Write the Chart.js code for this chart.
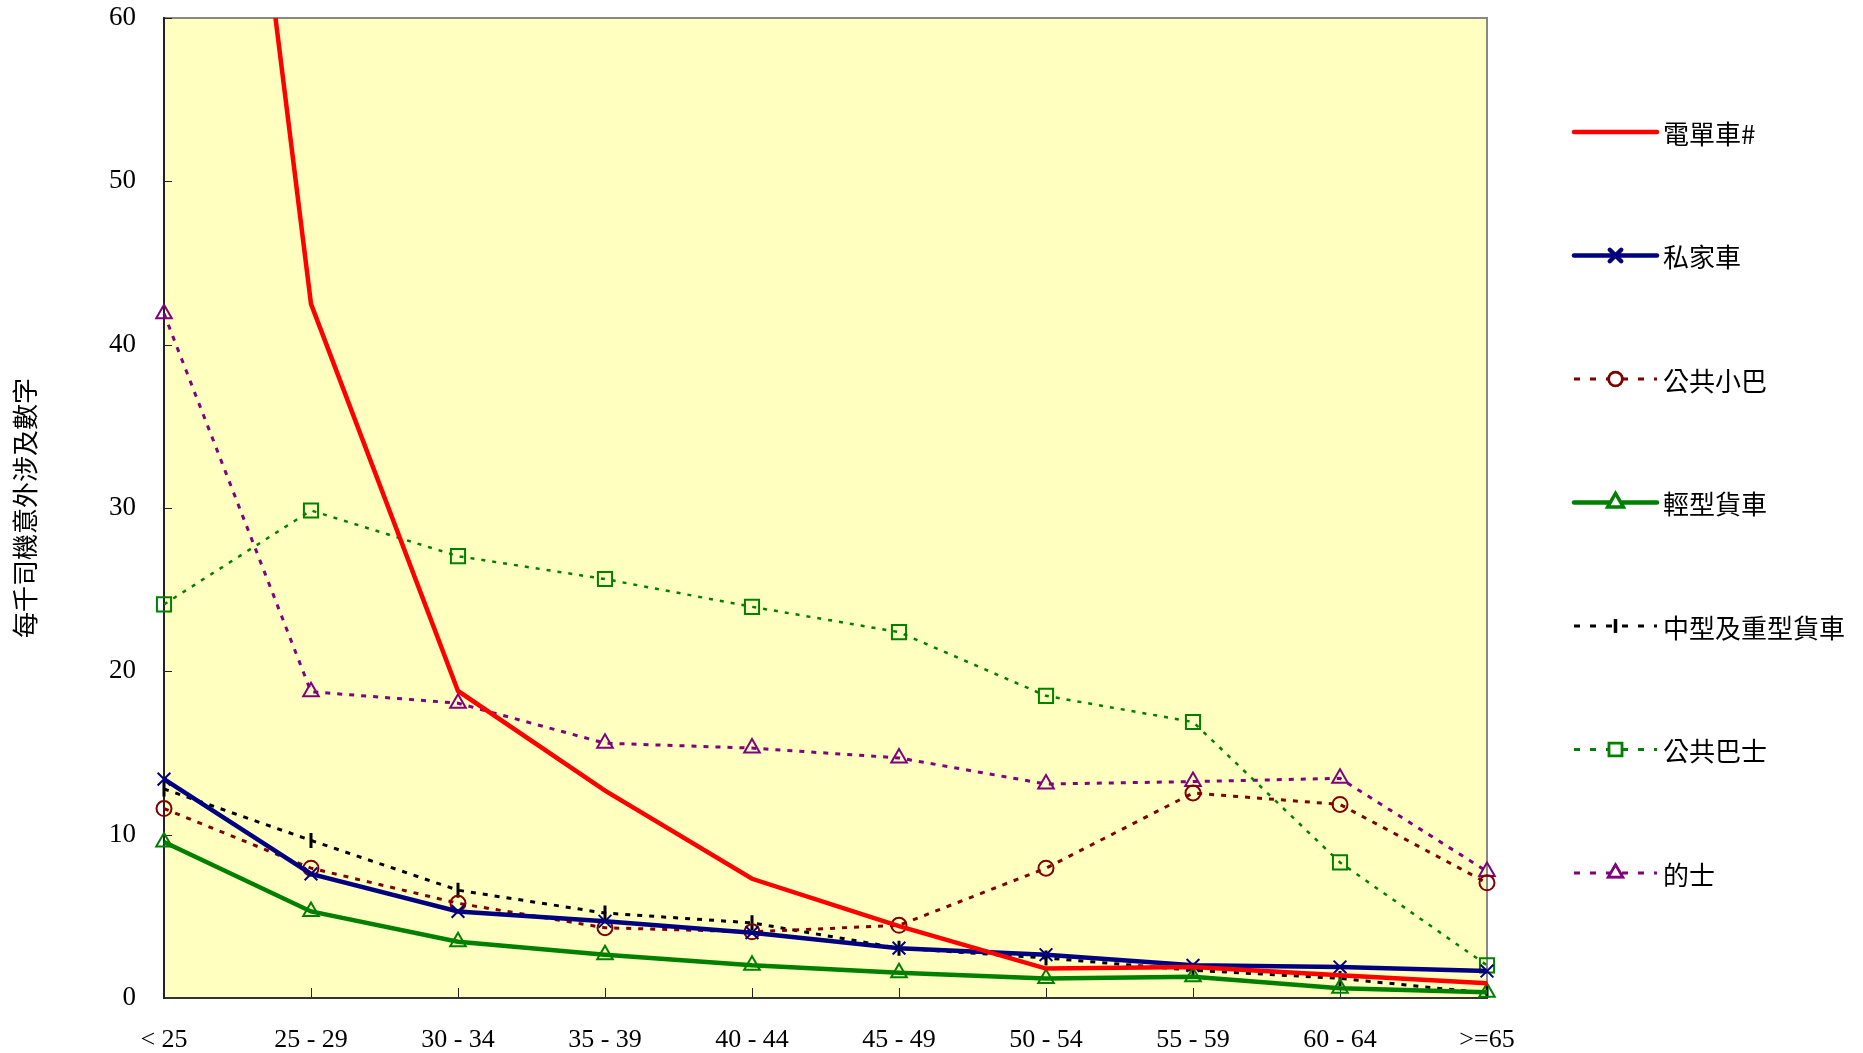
<!DOCTYPE html>
<html>
<head>
<meta charset="utf-8">
<script src="https://cdn.jsdelivr.net/npm/chart.js@4/dist/chart.umd.min.js"></script>
<style>
html,body{margin:0;padding:0;background:#fff;}
#wrap{width:1863px;height:1053px;position:relative;}
</style>
</head>
<body>
<div id="wrap"><canvas id="c"></canvas></div>
<script>
const categories = ['< 25','25 - 29','30 - 34','35 - 39','40 - 44','45 - 49','50 - 54','55 - 59','60 - 64','>=65'];
const seriesNames = ['電單車#','私家車','公共小巴','輕型貨車','中型及重型貨車','公共巴士','的士'];
const motorcycle   = [115, 42.5, 18.8, 12.7, 7.3, 4.4, 1.8, 1.9, 1.4, 0.9];
const privateCar   = [13.4, 7.6, 5.3, 4.7, 4.0, 3.05, 2.65, 2.0, 1.9, 1.65];
const publicLightBus = [11.6, 7.95, 5.8, 4.3, 4.05, 4.45, 7.95, 12.55, 11.85, 7.05];
const lightGoods   = [9.55, 5.3, 3.45, 2.65, 2.0, 1.55, 1.2, 1.3, 0.6, 0.35];
const heavyGoods   = [12.8, 9.65, 6.6, 5.2, 4.6, 3.05, 2.45, 1.7, 1.2, 0.3];
const franchisedBus = [24.1, 29.85, 27.05, 25.65, 23.95, 22.4, 18.5, 16.9, 8.3, 2.0];
const taxi         = [41.9, 18.75, 18.05, 15.6, 15.3, 14.7, 13.1, 13.25, 13.45, 7.75];
const yTicks = [0, 10, 20, 30, 40, 50, 60];
const yTitle = '每千司機意外涉及數字';

const bgPlugin = {
  id: 'bg',
  beforeDraw(chart) {
    const {ctx, chartArea: a} = chart;
    ctx.save();
    ctx.fillStyle = '#FFFFC0';
    ctx.fillRect(a.left, a.top, a.right - a.left, a.bottom - a.top);
    ctx.strokeStyle = '#888888';
    ctx.lineWidth = 2;
    ctx.beginPath();
    ctx.moveTo(a.left, a.top); ctx.lineTo(a.right, a.top); ctx.lineTo(a.right, a.bottom);
    ctx.stroke();
    ctx.strokeStyle = '#222';
    ctx.lineWidth = 1;
    const ys = chart.scales.y, xs = chart.scales.x;
    ys.ticks.forEach((t, i) => {
      const y = Math.round(ys.getPixelForTick(i)) + 0.5;
      ctx.beginPath(); ctx.moveTo(a.left, y); ctx.lineTo(a.left + 8, y); ctx.stroke();
    });
    xs.ticks.forEach((t, i) => {
      const x = Math.round(xs.getPixelForTick(i)) + 0.5;
      ctx.beginPath(); ctx.moveTo(x, a.bottom); ctx.lineTo(x, a.bottom - 10); ctx.stroke();
    });
    ctx.restore();
  }
};

const legendPlugin = {
  id: 'customLegend',
  afterDraw(chart) {
    const {ctx, chartArea: a} = chart;
    ctx.save();
    const x0 = a.right + 87, x1 = a.right + 170, tx = a.right + 176;
    chart.data.datasets.forEach((ds, i) => {
      const y = a.top + 114 + i * 123.5;
      const dashed = ds.borderDash && ds.borderDash.length;
      ctx.strokeStyle = ds.borderColor;
      ctx.lineWidth = ds.legendLineWidth;
      ctx.lineCap = dashed ? 'butt' : 'round';
      ctx.setLineDash(dashed ? [6, 10] : []);
      ctx.beginPath(); ctx.moveTo(x0, y); ctx.lineTo(x1, y); ctx.stroke();
      ctx.setLineDash([]);
      if (ds.pointRadius > 0) {
        Chart.helpers.drawPoint(ctx, {
          pointStyle: ds.pointStyle,
          rotation: ds.pointRotation || 0,
          radius: ds.pointRadius * 0.9,
          borderWidth: ds.pointBorderWidth
        }, (x0 + x1) / 2, y);
        ctx.fillStyle = '#ffffff';
        ctx.strokeStyle = ds.pointBorderColor;
        ctx.lineWidth = ds.pointBorderWidth + 0.5;
        ctx.fill();
        ctx.stroke();
      }
      ctx.fillStyle = '#000';
      ctx.font = '26px "Noto Sans CJK TC", "Noto Sans CJK SC", sans-serif';
      ctx.textBaseline = 'middle';
      ctx.textAlign = 'left';
      ctx.fillText(ds.label, tx, y + 2);
    });
    ctx.restore();
  }
};

function ds(label, data, color, opts) {
  return Object.assign({
    label, data,
    borderColor: color,
    pointBorderColor: color,
    backgroundColor: 'rgba(0,0,0,0)',
    pointBackgroundColor: 'rgba(0,0,0,0)',
    tension: 0,
    fill: false
  }, opts);
}

const datasets = [
  ds(seriesNames[0], motorcycle, '#FF0000', {borderWidth: 4.5, legendLineWidth: 4.5, pointRadius: 0, pointStyle: 'circle', pointBorderWidth: 0}),
  ds(seriesNames[1], privateCar, '#000080', {borderWidth: 4.5, legendLineWidth: 4.5, pointRadius: 9, pointStyle: 'crossRot', pointBorderWidth: 2}),
  ds(seriesNames[2], publicLightBus, '#800000', {borderWidth: 3, legendLineWidth: 3, borderDash: [5, 7], pointRadius: 7.5, pointStyle: 'circle', pointBorderWidth: 2}),
  ds(seriesNames[3], lightGoods, '#008000', {borderWidth: 4.5, legendLineWidth: 4.5, pointRadius: 9, pointStyle: 'triangle', pointBorderWidth: 2}),
  ds(seriesNames[4], heavyGoods, '#000000', {borderWidth: 3, legendLineWidth: 3, borderDash: [5, 7], pointRadius: 7.5, pointStyle: 'line', pointRotation: 90, pointBorderWidth: 3}),
  ds(seriesNames[5], franchisedBus, '#008000', {borderWidth: 2.5, legendLineWidth: 3, borderDash: [4, 7], pointRadius: 10, pointStyle: 'rect', pointBorderWidth: 2}),
  ds(seriesNames[6], taxi, '#800080', {borderWidth: 3, legendLineWidth: 3, borderDash: [5, 7], pointRadius: 9, pointStyle: 'triangle', pointBorderWidth: 2})
];

new Chart(document.getElementById('c'), {
  type: 'line',
  data: { labels: categories, datasets },
  plugins: [bgPlugin, legendPlugin],
  options: {
    responsive: true,
    maintainAspectRatio: false,
    animation: false,
    layout: { padding: { left: 0, right: 376, top: 18, bottom: 0 } },
    plugins: { legend: { display: false }, tooltip: { enabled: false } },
    elements: { line: { borderCapStyle: 'butt', borderJoinStyle: 'miter' } },
    scales: {
      x: {
        type: 'category',
        offset: false,
        grid: { display: false },
        border: { display: true, color: '#333333', width: 2 },
        ticks: {
          autoSkip: false, maxRotation: 0, minRotation: 0,
          padding: 19, color: '#000',
          font: { family: '"Liberation Serif", "Times New Roman", serif', size: 26 }
        },
        afterFit(scale) {
          scale.height = 55;
          scale.paddingLeft = 0; scale.paddingRight = 0;
        }
      },
      y: {
        min: 0, max: 60,
        grid: { display: false },
        border: { display: true, color: '#222222', width: 2 },
        afterBuildTicks(scale) { scale.ticks = yTicks.map(v => ({ value: v })); },
        ticks: {
          padding: 20, color: '#000',
          font: { family: '"Liberation Serif", "Times New Roman", serif', size: 27 }
        },
        title: {
          display: true, text: yTitle, color: '#000',
          font: { family: '"Noto Sans CJK TC", "Noto Sans CJK SC", sans-serif', size: 26 },
          padding: { top: 10, bottom: 0 }
        },
        afterFit(scale) {
          scale.width = 164;
          scale.paddingTop = 0; scale.paddingBottom = 0;
        }
      }
    }
  }
});
</script>
</body>
</html>
